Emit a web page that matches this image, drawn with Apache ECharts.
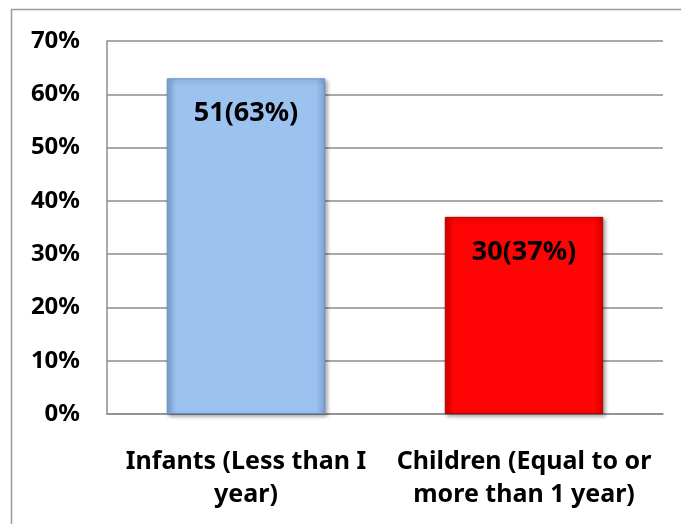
<!DOCTYPE html>
<html>
<head>
<meta charset="utf-8">
<script src="https://cdn.jsdelivr.net/npm/echarts@6/dist/echarts.min.js"></script>
<style>
  html, body { margin: 0; padding: 0; background: #fff; }
  #chart { width: 681px; height: 524px; }
</style>
</head>
<body>
<div id="chart"></div>
<script>
// Age groups, patient counts and their share of the total
const categories = ['Infants (Less than I\nyear)', 'Children (Equal to or\nmore than 1 year)'];
const counts = [51, 30];
const percents = [63, 37];
const yTicks = [0, 10, 20, 30, 40, 50, 60, 70];

const FONT = '"Noto Sans", sans-serif';

function bevel(mid, edge) {
  return {
    type: 'linear', x: 0, y: 0, x2: 1, y2: 0,
    colorStops: [
      { offset: 0, color: edge },
      { offset: 0.06, color: mid },
      { offset: 0.94, color: mid },
      { offset: 1, color: edge }
    ]
  };
}

const styles = [
  { color: bevel('#9CC2EF', '#7EA3D6'), borderColor: '#6A8FC4' },
  { color: bevel('#FF0404', '#D80000'), borderColor: '#B00000' }
];

const chart = echarts.init(document.getElementById('chart'));
chart.setOption({
  animation: false,
  graphic: [{
    type: 'rect',
    shape: { x: 11.5, y: 9.5, width: 720, height: 560 },
    style: { fill: 'none', stroke: '#9a9a9a', lineWidth: 1.5 },
    silent: true
  }],
  grid: { left: 107, right: 18, top: 41, bottom: 110 },
  xAxis: {
    type: 'category',
    data: categories,
    axisLine: { lineStyle: { color: '#8c8c8c', width: 1.5 } },
    axisTick: { show: false },
    axisLabel: {
      interval: 0,
      margin: 31,
      color: '#000',
      fontFamily: FONT,
      fontWeight: 'bold',
      fontSize: 25,
      lineHeight: 33
    }
  },
  yAxis: {
    type: 'value',
    min: 0,
    max: 70,
    interval: 10,
    axisLine: { show: true, lineStyle: { color: '#8c8c8c', width: 1.5 } },
    axisTick: { show: false },
    splitLine: { lineStyle: { color: '#8c8c8c', width: 1.5 } },
    axisLabel: {
      margin: 27,
      color: '#000',
      fontFamily: FONT,
      fontWeight: 'bold',
      fontSize: 24,
      formatter: v => (yTicks.includes(v) ? v + '%' : '')
    }
  },
  series: [{
    type: 'bar',
    barWidth: '57%',
    data: percents.map((p, i) => ({
      value: p,
      itemStyle: {
        color: styles[i].color,
        borderColor: styles[i].borderColor,
        borderWidth: 1,
        shadowColor: 'rgba(0,0,0,0.35)',
        shadowBlur: 4,
        shadowOffsetX: 2,
        shadowOffsetY: 2
      }
    })),
    label: {
      show: true,
      position: 'insideTop',
      distance: 22,
      color: '#000',
      fontFamily: FONT,
      fontWeight: 'bold',
      fontSize: 27,
      formatter: p => counts[p.dataIndex] + '(' + percents[p.dataIndex] + '%)'
    }
  }]
});
</script>
</body>
</html>
